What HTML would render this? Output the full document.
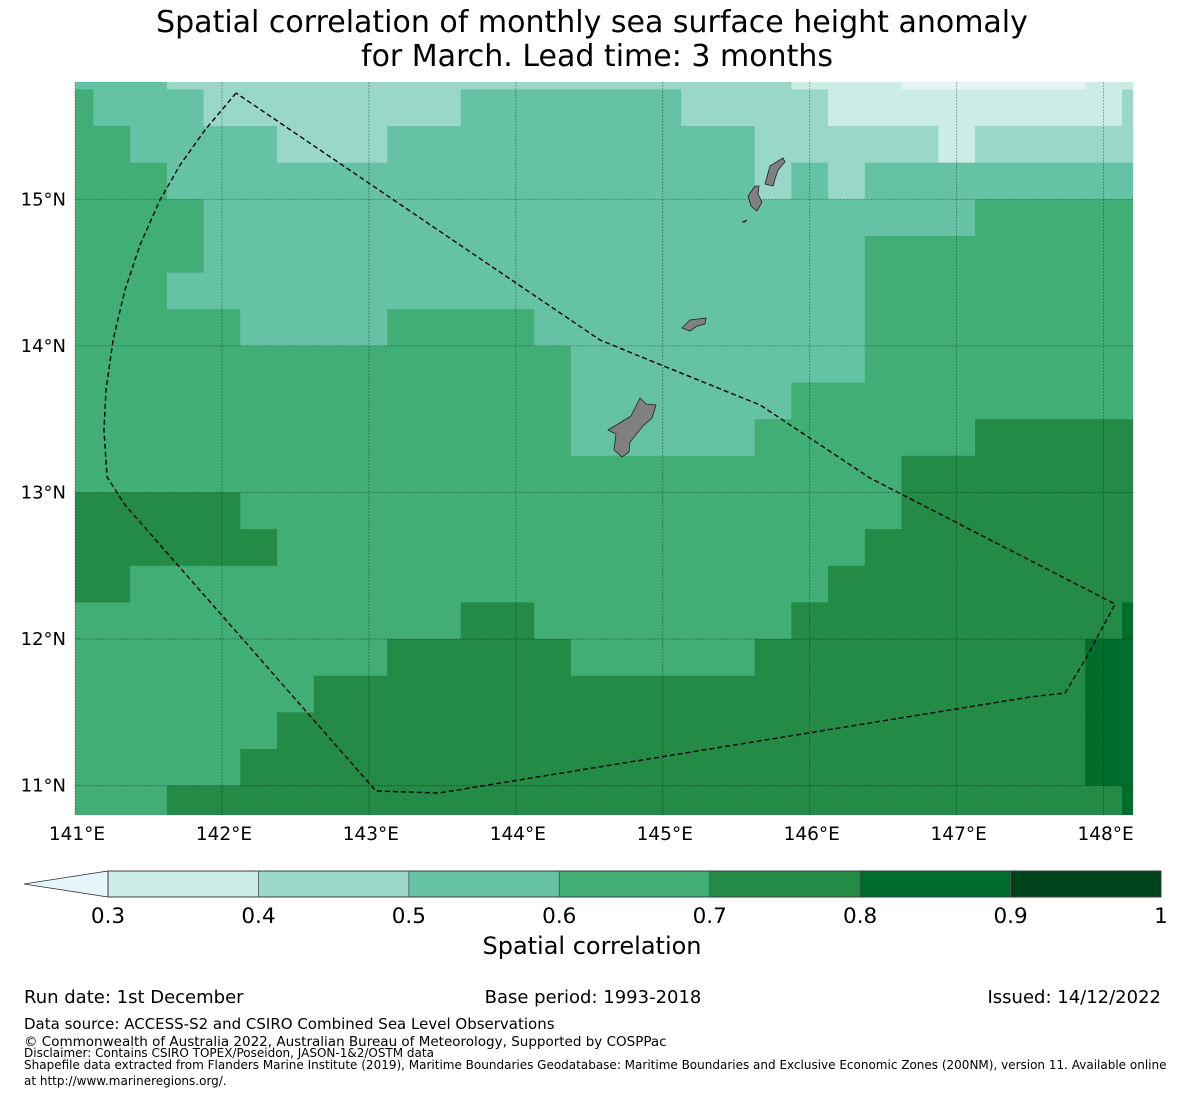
<!DOCTYPE html>
<html><head><meta charset="utf-8">
<style>
html,body{margin:0;padding:0;background:#fff;}
body{width:1185px;height:1095px;overflow:hidden;font-family:"DejaVu Sans","Liberation Sans",sans-serif;}
svg text{font-family:"DejaVu Sans","Liberation Sans",sans-serif;fill:#000;}
</style></head>
<body>
<svg id="chart" width="1185" height="1095" xmlns="http://www.w3.org/2000/svg">
  <text x="592" y="32" font-size="30" text-anchor="middle">Spatial correlation of monthly sea surface height anomaly</text>
  <text x="597" y="66" font-size="30" text-anchor="middle">for March. Lead time: 3 months</text>
  <g id="map"></g>
  <g id="cbar"></g>
  <text x="592" y="954" font-size="24" text-anchor="middle">Spatial correlation</text>
  <text x="24" y="1003" font-size="18">Run date: 1st December</text>
  <text x="593" y="1003" font-size="18" text-anchor="middle">Base period: 1993-2018</text>
  <text x="1161" y="1003" font-size="18" text-anchor="end">Issued: 14/12/2022</text>
  <text x="24" y="1029" font-size="15">Data source: ACCESS-S2 and CSIRO Combined Sea Level Observations</text>
  <text x="24" y="1046" font-size="13.5">© Commonwealth of Australia 2022, Australian Bureau of Meteorology, Supported by COSPPac</text>
  <text x="24" y="1057" font-size="12">Disclaimer: Contains CSIRO TOPEX/Poseidon, JASON-1&amp;2/OSTM data</text>
  <text x="24" y="1069" font-size="12">Shapefile data extracted from Flanders Marine Institute (2019), Maritime Boundaries Geodatabase: Maritime Boundaries and Exclusive Economic Zones (200NM), version 11. Available online</text>
  <text x="24" y="1085" font-size="12">at http://www.marineregions.org/.</text>
</svg>
<script>
// Grid: 30 columns (lon centres 141.0..148.25 step 0.25), 21 rows (lat 15.875 .. 10.875 step -0.25)
const lonCenters = [141.0,141.25,141.5,141.75,142.0,142.25,142.5,142.75,143.0,143.25,143.5,143.75,144.0,144.25,144.5,144.75,145.0,145.25,145.5,145.75,146.0,146.25,146.5,146.75,147.0,147.25,147.5,147.75,148.0,148.25];
const latCenters = [15.875,15.625,15.375,15.125,14.875,14.625,14.375,14.125,13.875,13.625,13.375,13.125,12.875,12.625,12.375,12.125,11.875,11.625,11.375,11.125,10.875];
// Correlation values per row as run-lengths [value, count]
const corrRuns = [
 [[0.55,3],[0.45,17],[0.35,3],[0.25,5],[0.35,2]],
 [[0.65,1],[0.55,3],[0.45,7],[0.55,6],[0.45,4],[0.35,8],[0.45,1]],
 [[0.65,2],[0.55,4],[0.45,3],[0.55,10],[0.45,5],[0.35,1],[0.45,5]],
 [[0.65,3],[0.55,16],[0.45,1],[0.55,1],[0.45,1],[0.55,8]],
 [[0.65,4],[0.55,21],[0.65,5]],
 [[0.65,4],[0.55,18],[0.65,8]],
 [[0.65,3],[0.55,19],[0.65,8]],
 [[0.65,5],[0.55,4],[0.65,4],[0.55,9],[0.65,8]],
 [[0.65,14],[0.55,8],[0.65,8]],
 [[0.65,14],[0.55,6],[0.65,10]],
 [[0.65,14],[0.55,5],[0.65,6],[0.75,5]],
 [[0.65,23],[0.75,7]],
 [[0.75,5],[0.65,18],[0.75,7]],
 [[0.75,6],[0.65,16],[0.75,8]],
 [[0.75,2],[0.65,19],[0.75,9]],
 [[0.65,11],[0.75,2],[0.65,7],[0.75,9],[0.85,1]],
 [[0.65,9],[0.75,5],[0.65,5],[0.75,9],[0.85,2]],
 [[0.65,7],[0.75,21],[0.85,2]],
 [[0.65,6],[0.75,22],[0.85,2]],
 [[0.65,5],[0.75,23],[0.85,2]],
 [[0.65,3],[0.75,26],[0.85,1]]
];
const levelBounds = [0.3,0.4,0.5,0.6,0.7,0.8,0.9,1.0];
const levelColors = ["#e5f5f9","#ccece6","#99d8c9","#66c2a4","#41ae76","#238b45","#006d2c","#00441b"];
const lonTicks = [141,142,143,144,145,146,147,148];
const latTicks = [11,12,13,14,15];
const eezLon = [142.096,141.885,141.715,141.578,141.442,141.340,141.259,141.211,141.197,141.218,141.340,143.048,143.477,147.499,147.737,147.873,148.078,147.295,146.410,145.662,145.022,144.573,144.001,142.096];
const eezLat = [15.725,15.473,15.234,14.995,14.688,14.381,14.040,13.699,13.426,13.106,12.915,10.964,10.950,11.605,11.632,11.857,12.239,12.642,13.099,13.597,13.856,14.040,14.429,15.725];

const NS='http://www.w3.org/2000/svg';
const X0=75,X1=1133,Y0=82,Y1=815;
const LON0=141.0, LON1=148.2, LAT0=10.8, LAT1=15.8;
const xs = lon => X0 + (lon-LON0)*(X1-X0)/(LON1-LON0);
const ys = lat => Y1 - (lat-LAT0)*(Y1-Y0)/(LAT1-LAT0);
function colorFor(v){
  if(v<levelBounds[0]) return levelColors[0];
  for(let i=0;i<levelBounds.length-1;i++){ if(v>=levelBounds[i] && v<levelBounds[i+1]) return levelColors[i+1]; }
  return levelColors[levelColors.length-1];
}
function mk(tag,attrs,parent){const e=document.createElementNS(NS,tag);for(const k in attrs)e.setAttribute(k,attrs[k]);parent.appendChild(e);return e;}

const map=document.getElementById('map');
const defs=mk('defs',{},map);
const cp=mk('clipPath',{id:'mapclip'},defs);
mk('rect',{x:X0,y:Y0,width:X1-X0,height:Y1-Y0},cp);
const cells=mk('g',{'clip-path':'url(#mapclip)'},map);


corrRuns.forEach((runs,r)=>{
  let c=0;
  runs.forEach(([v,n])=>{
    for(let k=0;k<n;k++,c++){
      const lon=lonCenters[c], lat=latCenters[r];
      const x=xs(lon-0.125), x2=xs(lon+0.125), y=ys(lat+0.125), y2=ys(lat-0.125);
      const rc=mk('rect',{x:x,y:y,width:x2-x+0.6,height:y2-y+0.6,fill:colorFor(v)},cells);
      
      
    }
  });
});
lonTicks.forEach(l=>{
  const g=mk('line',{x1:xs(l),x2:xs(l),y1:Y0,y2:Y1,stroke:'#000','stroke-opacity':0.35,'stroke-width':0.8,'stroke-dasharray':'2,1'},map);
  
  
  const t=mk('text',{x:xs(l)+2,y:840,'font-size':18.5,'text-anchor':'middle'},map);
  t.textContent=l+'°E';
  
  
});
latTicks.forEach(l=>{
  const g=mk('line',{x1:X0,x2:X1,y1:ys(l),y2:ys(l),stroke:'#000','stroke-opacity':0.35,'stroke-width':0.8,'stroke-dasharray':'2,1'},map);
  
  
  const t=mk('text',{x:66,y:ys(l)+6,'font-size':18,'text-anchor':'end'},map);
  t.textContent=l+'°N';
  
  
});
const islands=[
 "640,398 646,404 656,405 652,418 643,426 630,442 629,452 622,457 614,450 616,434 608,430 618,424 631,416",
 "682,328 690,320 706,318 705,324 697,326 690,331",
 "748,196 755,186 759,186 758,194 762,202 757,211 751,206",
 "765,184 770,166 783,158 785,162 778,170 776,176 773,186",
 "742,222 747,220 745,222"
];
islands.forEach(p=>{
  const e=mk('polygon',{points:p,fill:'#808080',stroke:'#222','stroke-width':0.8},map);
  
  
});
const eezPts=eezLon.map((lo,i)=>xs(lo)+','+ys(eezLat[i])).join(' ');
const eez=mk('polyline',{points:eezPts,fill:'none',stroke:'#000','stroke-width':1.4,'stroke-dasharray':'5,3'},map);



const cb=document.getElementById('cbar');
const CB0=108,CB1=1161,CBY=871,CBH=26;
const cx = v => CB0 + (v-levelBounds[0])*(CB1-CB0)/(levelBounds[levelBounds.length-1]-levelBounds[0]);
const tri=mk('polygon',{points:`24,${CBY+CBH/2} ${CB0},${CBY} ${CB0},${CBY+CBH}`,fill:levelColors[0],stroke:'#333','stroke-width':0.8},cb);


for(let i=0;i<levelBounds.length-1;i++){
  const s=mk('rect',{x:cx(levelBounds[i]),y:CBY,width:cx(levelBounds[i+1])-cx(levelBounds[i]),height:CBH,fill:levelColors[i+1],stroke:'#555','stroke-width':0.8},cb);
  
  
}
const frame=mk('rect',{x:CB0,y:CBY,width:CB1-CB0,height:CBH,fill:'none',stroke:'#333','stroke-width':0.8},cb);


levelBounds.forEach(v=>{
  const t=mk('text',{x:cx(v),y:923,'font-size':21.5,'text-anchor':'middle'},cb);
  t.textContent=(v===1?'1':v.toFixed(1));
  
  
});
</script>
</body></html>
